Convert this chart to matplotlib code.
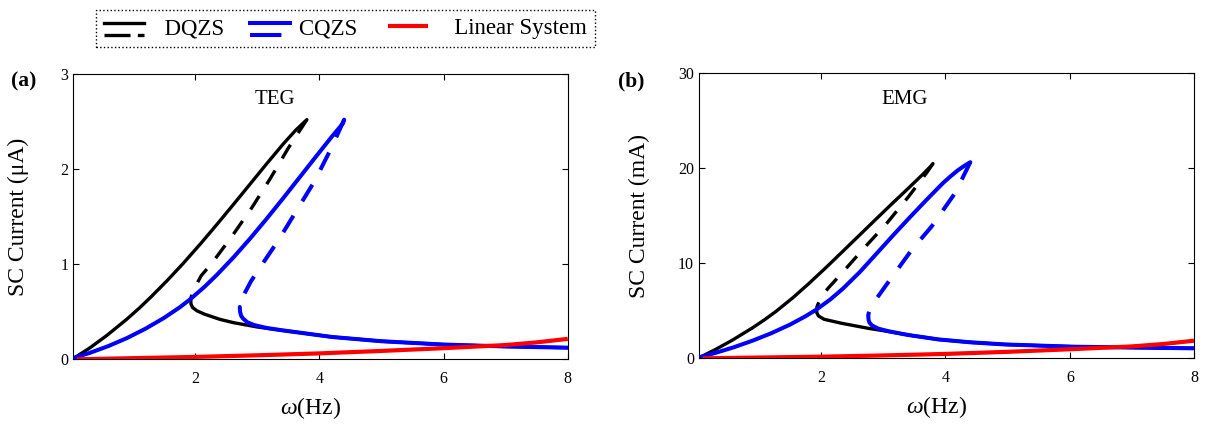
import matplotlib
matplotlib.use("Agg")
import matplotlib.pyplot as plt
from matplotlib.lines import Line2D
from matplotlib.legend_handler import HandlerBase

plt.rcParams['font.family'] = ['Liberation Serif', 'DejaVu Serif']
plt.rcParams['mathtext.fontset'] = 'custom'
plt.rcParams['mathtext.rm'] = 'Liberation Serif'
plt.rcParams['mathtext.it'] = 'Liberation Serif:italic'
plt.rcParams['mathtext.bf'] = 'Liberation Serif:bold'

# ---------------- data: panel (a) TEG ----------------
a_dq_up_w = [0.07, 0.30, 0.58, 0.90, 1.10, 1.28, 1.55, 1.81, 2.10, 2.35, 2.62, 2.88, 3.15, 3.42, 3.62, 3.77, 3.80]
a_dq_up_i = [0.02, 0.117, 0.251, 0.421, 0.537, 0.649, 0.827, 1.009, 1.224, 1.417, 1.630, 1.838, 2.054, 2.265, 2.409, 2.502, 2.52]
a_dq_un_w = [3.80, 3.70, 3.50, 3.21, 2.91, 2.59, 2.27, 2.10, 2.00, 1.96, 1.935, 1.93]
a_dq_un_i = [2.52, 2.42, 2.22, 1.90, 1.59, 1.29, 1.01, 0.88, 0.76, 0.70, 0.65, 0.62]
a_dq_lo_w = [1.93, 1.935, 1.96, 2.03, 2.15, 2.40, 2.62, 3.00, 3.40, 3.80, 4.20, 5.00, 6.00, 7.00, 8.00]
a_dq_lo_i = [0.62, 0.58, 0.545, 0.51, 0.475, 0.42, 0.385, 0.34, 0.305, 0.27, 0.235, 0.19, 0.155, 0.135, 0.122]

a_cq_up_w = [0.07, 0.30, 0.60, 0.90, 1.20, 1.50, 1.75, 1.92, 2.15, 2.35, 2.62, 2.88, 3.15, 3.42, 3.69, 3.96, 4.20, 4.38, 4.40]
a_cq_up_i = [0.02, 0.066, 0.138, 0.222, 0.321, 0.435, 0.545, 0.63, 0.761, 0.887, 1.073, 1.265, 1.476, 1.695, 1.919, 2.143, 2.34, 2.48, 2.52]
a_cq_un_w = [4.40, 4.20, 3.93, 3.64, 3.34, 3.05, 2.90, 2.81, 2.75, 2.725, 2.72]
a_cq_un_i = [2.52, 2.23, 1.88, 1.57, 1.25, 0.97, 0.82, 0.71, 0.63, 0.58, 0.55]
a_cq_lo_w = [2.72, 2.725, 2.74, 2.77, 2.84, 2.95, 3.15, 3.40, 3.80, 4.20, 5.00, 6.00, 7.00, 8.00]
a_cq_lo_i = [0.55, 0.50, 0.46, 0.43, 0.39, 0.36, 0.33, 0.305, 0.27, 0.235, 0.19, 0.155, 0.135, 0.122]

a_lin_w = [0.10, 1.0, 2.0, 3.0, 4.0, 5.0, 6.0, 7.0, 7.5, 8.0]
a_lin_i = [0.0, 0.012, 0.025, 0.042, 0.062, 0.088, 0.117, 0.15, 0.178, 0.215]

# ---------------- data: panel (b) EMG ----------------
b_dq_up_w = [0.07, 0.30, 0.58, 0.90, 1.10, 1.28, 1.55, 1.81, 2.10, 2.35, 2.62, 2.88, 3.15, 3.42, 3.62, 3.77, 3.80]
b_dq_up_i = [0.15, 0.91, 1.92, 3.20, 4.08, 4.94, 6.37, 7.88, 9.65, 11.23, 12.94, 14.59, 16.29, 17.96, 19.22, 20.21, 20.45]
b_dq_un_w = [3.80, 3.70, 3.41, 3.06, 2.71, 2.33, 2.12, 2.01, 1.96, 1.935, 1.93]
b_dq_un_i = [20.45, 19.5, 17.0, 14.2, 11.7, 8.9, 7.4, 6.5, 5.8, 5.4, 5.09]
b_dq_lo_w = [1.93, 1.935, 1.96, 2.05, 2.33, 2.76, 3.10, 3.40, 3.89, 4.40, 4.97, 6.04, 7.12, 8.00]
b_dq_lo_i = [5.09, 4.75, 4.45, 4.1, 3.68, 3.15, 2.8, 2.45, 1.98, 1.68, 1.45, 1.22, 1.12, 1.05]

b_cq_up_w = [0.07, 0.30, 0.60, 0.90, 1.20, 1.50, 1.75, 1.93, 2.15, 2.35, 2.62, 2.88, 3.15, 3.42, 3.69, 3.96, 4.08, 4.20, 4.30, 4.37, 4.40]
b_cq_up_i = [0.15, 0.56, 1.16, 1.85, 2.63, 3.53, 4.41, 5.13, 6.18, 7.3, 9.03, 10.9, 12.85, 14.75, 16.6, 18.4, 19.1, 19.75, 20.2, 20.48, 20.6]
b_cq_un_w = [4.40, 4.16, 3.78, 3.46, 3.11, 2.84, 2.79, 2.765, 2.76]
b_cq_un_i = [20.6, 17.4, 13.86, 11.4, 8.25, 5.79, 5.1, 4.7, 4.45]
b_cq_lo_w = [2.76, 2.765, 2.78, 2.82, 2.92, 3.08, 3.40, 3.89, 4.40, 4.97, 6.04, 7.12, 8.00]
b_cq_lo_i = [4.45, 4.05, 3.75, 3.45, 3.12, 2.85, 2.45, 1.98, 1.68, 1.45, 1.22, 1.12, 1.05]

b_lin_w = [0.10, 1.0, 2.0, 3.0, 4.0, 5.0, 6.0, 7.0, 7.5, 8.0]
b_lin_i = [0.0, 0.08, 0.17, 0.30, 0.46, 0.68, 0.95, 1.25, 1.50, 1.85]

xticks = [2, 4, 6, 8]
a_yticks = [0, 1, 2, 3]
b_yticks = [0, 10, 20, 30]
legend_labels = ["  DQZS", "CQZS ", "   Linear System"]

# ---------------- styling ----------------
BLACK, BLUE, RED = "black", "#0000ff", "#ff0000"
LW_K, LW_B, LW_R = 2.4, 2.9, 3.0
DASH = (0, (4.8, 4.2))

fig = plt.figure(figsize=(12.07, 4.26), dpi=100)
ax_a = fig.add_axes([73.3 / 1207, (426 - 359.3) / 426, 494.5 / 1207, 285.3 / 426])
ax_b = fig.add_axes([699.0 / 1207, (426 - 358.3) / 426, 495.3 / 1207, 285.6 / 426])


def draw(ax, d, ylim, yticks, unit, tag, name, name_xy, tag_xy):
    (dqu, dqn, dql, cqu, cqn, cql, lin) = d
    l_dq, = ax.plot(*dqu, color=BLACK, lw=LW_K, solid_capstyle='round', zorder=3)
    ax.plot(*dqn, color=BLACK, lw=LW_K, ls=DASH, zorder=3)
    ax.plot(*dql, color=BLACK, lw=LW_K, solid_capstyle='round', zorder=3)
    l_cq, = ax.plot(*cqu, color=BLUE, lw=LW_B, solid_capstyle='round', zorder=4)
    ax.plot(*cqn, color=BLUE, lw=LW_B, ls=DASH, zorder=4)
    ax.plot(*cql, color=BLUE, lw=LW_B, solid_capstyle='round', zorder=4)
    l_lin, = ax.plot(*lin, color=RED, lw=LW_R, solid_capstyle='butt', zorder=5)
    ax.set_xlim(0.04, 8)
    ax.set_ylim(*ylim)
    ax.set_xticks(xticks)
    ax.set_yticks(yticks)
    ax.tick_params(direction='in', top=True, right=True, length=4, width=0.8,
                   labelsize=11.5)
    ax.tick_params(axis='x', pad=8.5)
    ax.tick_params(axis='y', pad=3.5)
    for s in ax.spines.values():
        s.set_linewidth(0.8)
    ax.set_ylabel("SC Current (" + unit + ")", fontsize=17)
    ax.set_xlabel(r"$\omega$(Hz)", fontsize=17)
    ax.xaxis.set_label_coords(0.48, -0.125)
    ax.yaxis.set_label_coords(tag_xy[2], 0.5)
    ax.text(name_xy[0], name_xy[1], name, fontsize=15, ha='center', va='center')
    ax.text(tag_xy[0], tag_xy[1], tag, fontsize=15.5, fontweight='bold',
            ha='center', va='center', transform=ax.transAxes)
    return l_dq, l_cq, l_lin


h = draw(ax_a, ((a_dq_up_w, a_dq_up_i), (a_dq_un_w, a_dq_un_i), (a_dq_lo_w, a_dq_lo_i),
                (a_cq_up_w, a_cq_up_i), (a_cq_un_w, a_cq_un_i), (a_cq_lo_w, a_cq_lo_i),
                (a_lin_w, a_lin_i)),
         (0, 3), a_yticks, "μA", "(a)", "TEG", (3.29, 2.73), (-0.0997, 0.975, -0.09))
draw(ax_b, ((b_dq_up_w, b_dq_up_i), (b_dq_un_w, b_dq_un_i), (b_dq_lo_w, b_dq_lo_i),
            (b_cq_up_w, b_cq_up_i), (b_cq_un_w, b_cq_un_i), (b_cq_lo_w, b_cq_lo_i),
            (b_lin_w, b_lin_i)),
     (0, 30), b_yticks, "mA", "(b)", "EMG", (3.35, 27.2), (-0.137, 0.968, -0.099))


class StackHandler(HandlerBase):
    def create_artists(self, legend, orig_handle, xdescent, ydescent, width, height,
                       fontsize, trans):
        c = orig_handle.get_color()
        lw = orig_handle.get_linewidth()
        x0, x1 = -xdescent, -xdescent + width
        yt = -ydescent + 0.67 * height
        yb = -ydescent - 0.08 * height
        l1 = Line2D([x0, x1], [yt, yt], color=c, lw=lw, transform=trans)
        l2 = Line2D([x0, x1], [yb, yb], color=c, lw=lw, ls=(0, (7.8, 2.2)),
                    transform=trans)
        return [l1, l2]


leg = fig.legend(list(h), legend_labels, loc='upper left',
                 bbox_to_anchor=(96 / 1207, 1 - 10 / 426), borderaxespad=0,
                 ncol=3, fontsize=16.5, handlelength=1.75, handletextpad=0.4,
                 columnspacing=1.1, borderpad=0.35, fancybox=False, framealpha=1,
                 edgecolor='black',
                 handler_map={h[0]: StackHandler(), h[1]: StackHandler()})
leg.get_frame().set_linestyle(':')
leg.get_frame().set_linewidth(1.0)

fig.savefig("out.png", dpi=100)
